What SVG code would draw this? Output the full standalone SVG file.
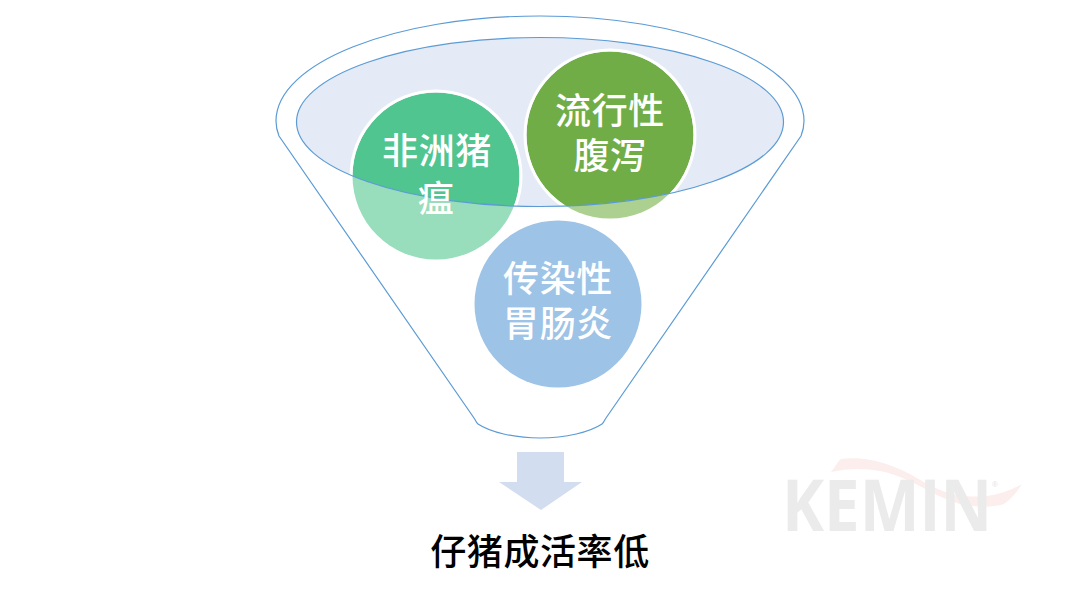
<svg xmlns="http://www.w3.org/2000/svg" width="1080" height="604" viewBox="0 0 1080 604">
<style>
.f{fill:none;stroke:#5B9BD5;stroke-width:1.2}
.t{font-family:"Noto Sans CJK SC","Liberation Sans",sans-serif;font-size:36px;font-weight:500;text-anchor:middle;fill:#fff;letter-spacing:0.6px}
.r{fill:none;stroke:#fff;stroke-width:3}
</style>
<defs>
<clipPath id="in"><ellipse cx="540" cy="122" rx="243.500" ry="84.500"/></clipPath>
</defs>
<rect width="1080" height="604" fill="#fff"/>
<g id="logo">
<path d="M831 472C836 466 838 461 841 459C858 457 875 460 889 465C904 470 913 476 922 481C933 487 943 492 953 494C965 497 977 497 987 496C1000 494 1012 490 1022 484C1017 492 1011 499 1004 504C994 507 983 507 973 506C963 505 955 503 946 499C936 495 926 489 916 484C906 479 896 475 885 472C876 470 867 469 858 469C849 469 840 470 831 472Z" fill="#FBEEEC"/>
<text x="782" y="531" font-family="'Open Sans','Liberation Sans',sans-serif" font-size="72" font-weight="700" fill="#EBEBEB" textLength="210" lengthAdjust="spacingAndGlyphs">KEMIN</text>
<text x="992" y="487" font-family="'Liberation Sans',sans-serif" font-size="8" fill="#E4E4E4">®</text>
</g>
<g id="funnel">
<path class="f" d="M276 121C276 63 394 16 540 16C686 16 804 63 804 121C804 126 803 131 801 136L606 418C604 421 604 422 602 424C590 432 566 438 540 438C514 438 490 432 478 424C476 422 476 421 474 418L279 136C277 131 276 126 276 121Z"/>
</g>
<g id="node-asf">
<circle cx="436" cy="176" r="83.500" fill="#98DDBC"/>
</g>
<g id="node-ped">
<circle cx="610" cy="135" r="83.500" fill="#ABD08F"/>
</g>
<g id="rim">
<ellipse cx="540" cy="122" rx="243.500" ry="84.500" fill="#E4EBF6"/>
<g clip-path="url(#in)">
<circle cx="436" cy="176" r="83.500" fill="#50C58F"/>
<circle class="r" cx="436" cy="176" r="85"/>
<circle cx="610" cy="135" r="83.500" fill="#70AD47"/>
<circle class="r" cx="610" cy="135" r="85"/>
</g>
<ellipse class="f" cx="540" cy="122" rx="243.500" ry="84.500"/>
</g>
<g id="node-tge">
<circle cx="558" cy="304" r="83.500" fill="#9DC3E6"/>
<text class="t" x="558" y="292">传染性</text>
<text class="t" x="558" y="337">胃肠炎</text>
</g>
<g id="labels">
<text class="t" x="437" y="164">非洲猪</text>
<text class="t" x="436" y="212">瘟</text>
<text class="t" x="610" y="124">流行性</text>
<text class="t" x="610" y="169">腹泻</text>
</g>
<g id="connectors">
<path d="M517 452H564V482H582L541 510L499 482H517Z" fill="#D2DDEF"/>
</g>
<g id="result">
<text class="t" x="540" y="565" style="fill:#000">仔猪成活率低</text>
</g>
</svg>
